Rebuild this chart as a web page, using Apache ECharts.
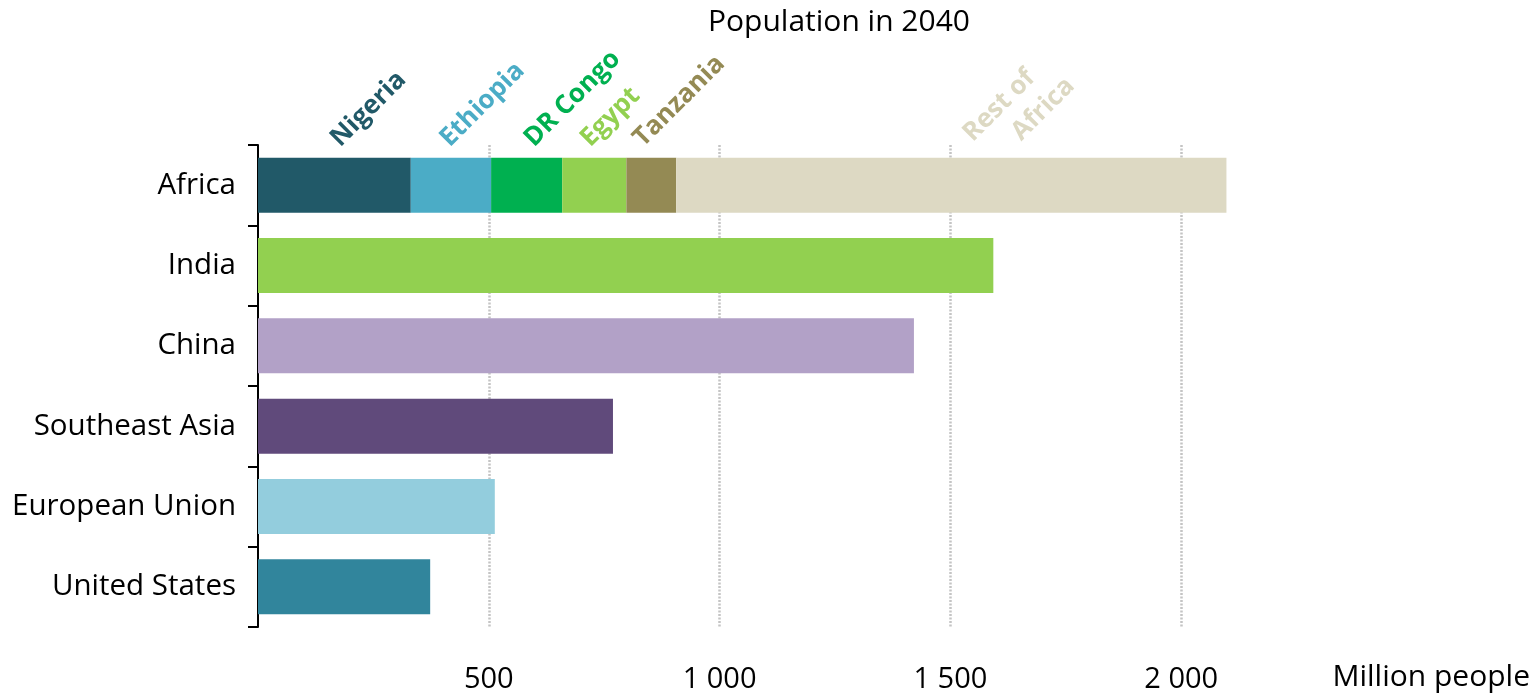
<!DOCTYPE html>
<html>
<head>
<meta charset="utf-8">
<script src="https://cdn.jsdelivr.net/npm/echarts@6/dist/echarts.min.js"></script>
<style>
html,body{margin:0;padding:0;background:#fff;}
#chart{width:1537px;height:694px;}
</style>
</head>
<body>
<div id="chart"></div>
<script>
// ---- data ----
const categories = ['Africa', 'India', 'China', 'Southeast Asia', 'European Union', 'United States'];
const africaParts = ['Nigeria', 'Ethiopia', 'DR Congo', 'Egypt', 'Tanzania', 'Rest of Africa'];
const africaValues = [331, 174, 154, 139, 108, 1192];
const otherRegions = ['India', 'China', 'Southeast Asia', 'European Union', 'United States'];
const otherValues = [1593, 1421, 769, 513, 373];
const xTicks = [500, 1000, 1500, 2000];

// ---- styles ----
const africaColors = ['#215968', '#4BACC6', '#00B050', '#92D050', '#948A54', '#DDD9C3'];
const otherColors = ['#92D050', '#B2A1C7', '#604A7B', '#93CDDD', '#31859C'];
const labelOffsets = [[7, 7], [2, 2], [8, 8], [0, 0], [-3, -3], [4, 4]];
const FONT = "'Open Sans', 'Noto Sans', sans-serif";
const LBL = 26;

const chart = echarts.init(document.getElementById('chart'));

const series = africaParts.map((name, i) => {
  const data = categories.map(c => '-');
  const isRest = i === africaParts.length - 1;
  const label = isRest ? {
    show: true, position: 'top', distance: 31, rotate: 45,
    align: 'left', verticalAlign: 'top',
    offset: labelOffsets[i],
    formatter: '{a|Rest of}\n{b|Africa}',
    rich: {
      a: {fontFamily: FONT, fontSize: LBL, fontWeight: 'bold', color: africaColors[i], lineHeight: 30},
      b: {fontFamily: FONT, fontSize: LBL, fontWeight: 'bold', color: africaColors[i], lineHeight: 37, padding: [0, 0, 0, 35]}
    }
  } : {
    show: true, position: 'top', distance: 6, rotate: 45,
    align: 'left', verticalAlign: 'bottom',
    offset: labelOffsets[i],
    fontFamily: FONT, fontSize: LBL, fontWeight: 'bold', color: africaColors[i],
    formatter: name
  };
  data[0] = {value: africaValues[i], label: label};
  return {
    name: name, type: 'bar', stack: 'total', barCategoryGap: '31.5%',
    itemStyle: {color: africaColors[i]},
    data: data,
    silent: true
  };
});

series.push({
  name: 'Regions', type: 'bar', stack: 'total', barCategoryGap: '31.5%',
  data: categories.map(c => {
    const k = otherRegions.indexOf(c);
    if (k < 0) return '-';
    return {value: otherValues[k], itemStyle: {color: otherColors[k]}};
  }),
  silent: true
});

function fmt(v) {
  return String(v).replace(/\B(?=(\d{3})+(?!\d))/g, ' ');
}

chart.setOption({
  animation: false,
  backgroundColor: '#ffffff',
  title: {
    text: 'Population in 2040',
    left: 834, top: 2, textAlign: 'center',
    textStyle: {fontFamily: FONT, fontSize: 30, fontWeight: 'normal', color: '#000'}
  },
  grid: {left: 258, right: 125, top: 145, bottom: 67, containLabel: false, outerBoundsMode: 'none'},
  xAxis: {
    type: 'value', min: 0, max: 2500, interval: 500,
    axisLine: {show: false}, axisTick: {show: false},
    splitLine: {show: true, showMinLine: false, showMaxLine: false,
      lineStyle: {color: '#c4c4c4', width: 2.5, type: [2, 1.5]}},
    axisLabel: {
      showMinLabel: false, showMaxLabel: false, margin: 38,
      fontFamily: FONT, fontSize: 29, color: '#000',
      formatter: v => (xTicks.indexOf(v) >= 0 ? fmt(v) : '')
    },
    name: 'Million people', nameLocation: 'end', nameGap: 118,
    nameTextStyle: {fontFamily: FONT, fontSize: 30, color: '#000', align: 'right', verticalAlign: 'top', lineHeight: 100}
  },
  yAxis: {
    type: 'category', data: categories, inverse: true,
    axisLine: {show: true, lineStyle: {color: '#000', width: 2}},
    axisTick: {show: true, length: 10, lineStyle: {color: '#000', width: 2}},
    axisLabel: {margin: 22, fontFamily: FONT, fontSize: 29.5, color: '#000'},
    splitLine: {show: false}
  },
  series: series
});
</script>
</body>
</html>
